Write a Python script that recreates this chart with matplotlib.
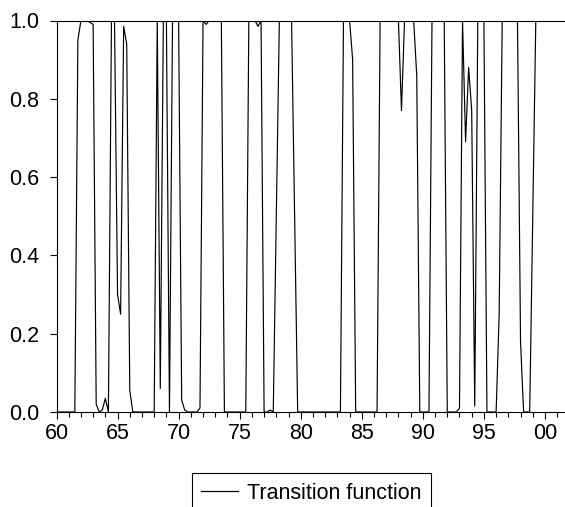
import numpy as np
import matplotlib
matplotlib.use("Agg")
import matplotlib.pyplot as plt
from matplotlib.ticker import FixedLocator, MultipleLocator

# ---- data (quarterly, starting 1960Q1) ----
start_year = 1960
transition = [
    0, 0, 0, 0, 0, 0, 0, 0.95, 1.0, 1.0,          # 1960Q1-1962Q2
    1.0, 0.995, 0.99, 0.02, 0.0, 0.005, 0.035, 0.0, 1.0, 1.0,   # -1964Q4
    0.30, 0.25, 0.985, 0.94, 0.055, 0, 0, 0, 0, 0,              # -1967Q2
    0, 0, 0, 1.0, 0.06, 1.0, 1.0, 0.0, 1.0, 1.0,                # -1969Q4
    1.0, 0.03, 0.005, 0, 0, 0, 0, 0.01, 1.0, 0.99,              # -1972Q2
    1.0, 1.0, 1.0, 1.0, 1.0, 0, 0, 0, 0, 0,                     # -1974Q4
    0, 0, 0, 1.0, 1.0, 1.0, 0.985, 1.0, 0, 0,                   # -1977Q2
    0.005, 0, 0.5, 1.0, 1.0, 1.0, 1.0, 1.0, 0.5, 0,             # -1979Q4
    0, 0, 0, 0, 0, 0, 0, 0, 0, 0,                               # -1982Q2
    0, 0, 0, 0, 1.0, 1.0, 1.0, 0.90, 0, 0,                      # -1984Q4
    0, 0, 0, 0, 0, 0, 1.0, 1.0, 1.0, 1.0,                       # -1987Q2
    1.0, 1.0, 1.0, 0.77, 1.0, 1.0, 1.0, 1.0, 0.86, 0,           # -1989Q4
    0, 0, 0, 1.0, 1.0, 1.0, 1.0, 1.0, 0, 0,                     # -1992Q2
    0, 0, 0.01, 1.0, 0.69, 0.88, 0.77, 0.015, 1.0, 1.0,         # -1994Q4
    1.0, 0, 0, 0, 0, 0.25, 1.0, 1.0, 1.0, 1.0,                  # -1997Q2
    1.0, 1.0, 0.18, 0, 0, 0, 0.5, 1.0, 1.0, 1.0,                # -1999Q4
    1.0, 1.0, 1.0, 1.0, 1.0, 1.0, 1.0,                          # -2001Q3
]
major_years = [1960, 1965, 1970, 1975, 1980, 1985, 1990, 1995, 2000]
major_labels = ["60", "65", "70", "75", "80", "85", "90", "95", "00"]
y_ticks = [0.0, 0.2, 0.4, 0.6, 0.8, 1.0]
series_name = "Transition function"

t = start_year + np.arange(len(transition)) / 4.0

plt.rcParams['font.family'] = ['Liberation Sans', 'DejaVu Sans']

W, H = 565, 507
fig = plt.figure(figsize=(W / 100, H / 100), dpi=100)
left, right, top, bottom = 56.5, 564.5, 20.5, 412.0
ax = fig.add_axes([left / W, 1 - bottom / H, (right - left) / W, (bottom - top) / H])

line, = ax.plot(t, transition, color='black', lw=0.85, label=series_name)

ax.set_xlim(1960, 2001.6)
ax.set_ylim(0, 1.0)

ax.xaxis.set_major_locator(FixedLocator(major_years))
ax.set_xticklabels(major_labels)
ax.xaxis.set_minor_locator(MultipleLocator(1))
ax.set_yticks(y_ticks)
ax.set_yticklabels([f"{v:.1f}" for v in y_ticks])

fs = 15.5
ax.tick_params(axis='x', which='major', direction='out', length=5.3, width=0.8,
               labelsize=fs, pad=2.5, colors='black')
ax.tick_params(axis='x', which='minor', direction='out', length=3.6, width=0.8)
ax.tick_params(axis='y', which='major', direction='out', length=5.0, width=0.8,
               labelsize=fs, pad=7.5, colors='black')
ax.tick_params(axis='y', which='minor', left=False)

for s in ['left', 'bottom', 'top']:
    ax.spines[s].set_linewidth(0.8)
    ax.spines[s].set_color('black')
ax.spines['right'].set_visible(False)

leg = fig.legend(handles=[line], loc='upper center',
                 bbox_to_anchor=(311.5 / W, 1 - 473 / H),
                 fontsize=fs, frameon=True, fancybox=False, shadow=False,
                 handlelength=1.72, handletextpad=0.42, borderpad=0.45,
                 borderaxespad=0.0)
leg.get_frame().set_edgecolor('black')
leg.get_frame().set_linewidth(0.8)
leg.get_frame().set_facecolor('white')
leg.get_frame().set_alpha(1)

fig.savefig("out.png", dpi=100, facecolor='white')
